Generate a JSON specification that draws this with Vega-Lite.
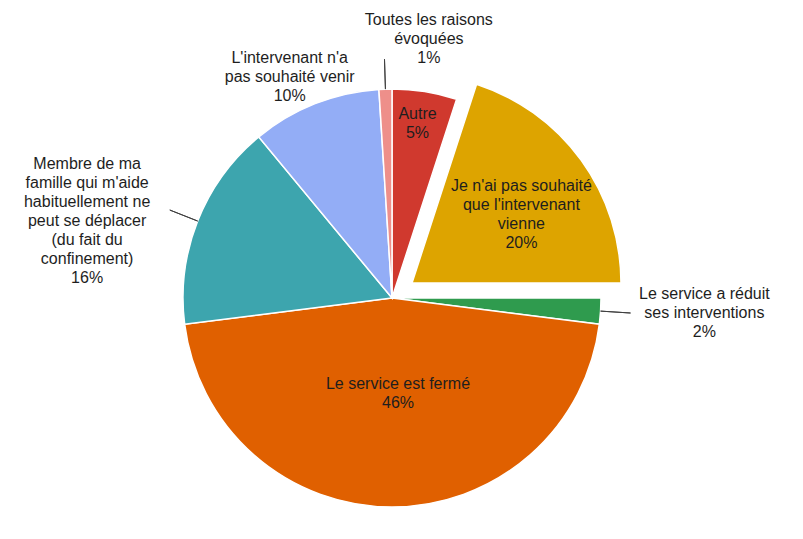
{
  "$schema": "https://vega.github.io/schema/vega-lite/v6.json",
  "width": 784,
  "height": 480,
  "autosize": "none",
  "padding": {"left": 0, "top": 58, "right": 19, "bottom": 1},
  "background": "white",
  "config": {"view": {"stroke": null}, "font": "Liberation Sans"},
  "data": {
    "values": [
      {"id": "Autre", "order": 1, "value": 5, "label": "Autre\n5%"},
      {"id": "Je n'ai pas souhaité que l'intervenant vienne", "order": 2, "value": 20, "label": "Je n'ai pas souhaité\nque l'intervenant\nvienne\n20%"},
      {"id": "Le service a réduit ses interventions", "order": 3, "value": 2, "label": "Le service a réduit\nses interventions\n2%"},
      {"id": "Le service est fermé", "order": 4, "value": 46, "label": "Le service est fermé\n46%"},
      {"id": "Membre de ma famille qui m'aide habituellement ne peut se déplacer (du fait du confinement)", "order": 5, "value": 16, "label": "Membre de ma\nfamille qui m'aide\nhabituellement ne\npeut se déplacer\n(du fait du\nconfinement)\n16%"},
      {"id": "L'intervenant n'a pas souhaité venir", "order": 6, "value": 10, "label": "L'intervenant  n'a\npas souhaité venir\n10%"},
      {"id": "Toutes les raisons évoquées", "order": 7, "value": 1, "label": "Toutes les raisons\névoquées\n1%"}
    ]
  },
  "transform": [
    {"window": [{"op": "sum", "field": "value", "as": "cum"}], "sort": [{"field": "order"}], "frame": [null, 0]},
    {"calculate": "datum.cum - datum.value", "as": "start"},
    {"calculate": "datum.cum - datum.value / 2", "as": "mid"}
  ],
  "encoding": {
    "color": {
      "field": "id",
      "type": "nominal",
      "legend": null,
      "scale": {
        "domain": ["Autre", "Je n'ai pas souhaité que l'intervenant vienne", "Le service a réduit ses interventions", "Le service est fermé", "Membre de ma famille qui m'aide habituellement ne peut se déplacer (du fait du confinement)", "L'intervenant n'a pas souhaité venir", "Toutes les raisons évoquées"],
        "range": ["#D0392E", "#DDA400", "#2F9B4E", "#E06000", "#3DA5AE", "#93ADF6", "#EE8F8A"]
      }
    }
  },
  "layer": [
    {
      "transform": [{"filter": "datum.order != 2"}],
      "mark": {"type": "arc", "radius": 209, "stroke": "white", "strokeWidth": 1.5},
      "encoding": {
        "theta": {"field": "start", "type": "quantitative", "scale": {"domain": [0, 100]}},
        "theta2": {"field": "cum"}
      }
    },
    {
      "transform": [{"filter": "datum.order == 2"}],
      "mark": {"type": "arc", "radius": 209, "stroke": "white", "strokeWidth": 1.5, "xOffset": 20, "yOffset": -15},
      "encoding": {
        "theta": {"field": "start", "type": "quantitative", "scale": {"domain": [0, 100]}},
        "theta2": {"field": "cum"}
      }
    },
    {
      "transform": [{"filter": "datum.order == 3 || datum.order == 5 || datum.order == 7"}],
      "mark": {"type": "arc", "radius": 239, "radius2": 209, "stroke": "#404040", "strokeWidth": 1, "fill": null},
      "encoding": {
        "color": {"value": "#404040"},
        "theta": {"field": "mid", "type": "quantitative", "scale": {"domain": [0, 100]}},
        "theta2": {"field": "mid"}
      }
    },
    {
      "transform": [{"filter": "datum.order == 1"}],
      "mark": {"type": "text", "radius": 176, "dx": -2, "dy": -10, "fontSize": 16, "lineHeight": 19, "lineBreak": "\n", "align": "center", "baseline": "middle"},
      "encoding": {"color": {"value": "#1e1e1e"}, "theta": {"field": "mid", "type": "quantitative", "scale": {"domain": [0, 100]}}, "text": {"field": "label"}}
    },
    {
      "transform": [{"filter": "datum.order == 2"}],
      "mark": {"type": "text", "radius": 155, "dx": 4, "dy": -21, "fontSize": 16, "lineHeight": 19, "lineBreak": "\n", "align": "center", "baseline": "middle"},
      "encoding": {"color": {"value": "#1e1e1e"}, "theta": {"field": "mid", "type": "quantitative", "scale": {"domain": [0, 100]}}, "text": {"field": "label"}}
    },
    {
      "transform": [{"filter": "datum.order == 3"}],
      "mark": {"type": "text", "radius": 312, "dx": 1, "dy": -24, "fontSize": 16, "lineHeight": 19, "lineBreak": "\n", "align": "center", "baseline": "middle"},
      "encoding": {"color": {"value": "#1e1e1e"}, "theta": {"field": "mid", "type": "quantitative", "scale": {"domain": [0, 100]}}, "text": {"field": "label"}}
    },
    {
      "transform": [{"filter": "datum.order == 4"}],
      "mark": {"type": "text", "radius": 94, "dx": 6, "dy": -8, "fontSize": 16, "lineHeight": 19, "lineBreak": "\n", "align": "center", "baseline": "middle"},
      "encoding": {"color": {"value": "#1e1e1e"}, "theta": {"field": "mid", "type": "quantitative", "scale": {"domain": [0, 100]}}, "text": {"field": "label"}}
    },
    {
      "transform": [{"filter": "datum.order == 5"}],
      "mark": {"type": "text", "radius": 315, "dx": -12, "dy": -18, "fontSize": 16, "lineHeight": 19, "lineBreak": "\n", "align": "center", "baseline": "middle"},
      "encoding": {"color": {"value": "#1e1e1e"}, "theta": {"field": "mid", "type": "quantitative", "scale": {"domain": [0, 100]}}, "text": {"field": "label"}}
    },
    {
      "transform": [{"filter": "datum.order == 6"}],
      "mark": {"type": "text", "radius": 240, "dx": -14, "dy": -17, "fontSize": 16, "lineHeight": 19, "lineBreak": "\n", "align": "center", "baseline": "middle"},
      "encoding": {"color": {"value": "#1e1e1e"}, "theta": {"field": "mid", "type": "quantitative", "scale": {"domain": [0, 100]}}, "text": {"field": "label"}}
    },
    {
      "transform": [{"filter": "datum.order == 7"}],
      "mark": {"type": "text", "radius": 260, "dx": 45, "dy": -18, "fontSize": 16, "lineHeight": 19, "lineBreak": "\n", "align": "center", "baseline": "middle"},
      "encoding": {"color": {"value": "#1e1e1e"}, "theta": {"field": "mid", "type": "quantitative", "scale": {"domain": [0, 100]}}, "text": {"field": "label"}}
    }
  ]
}
